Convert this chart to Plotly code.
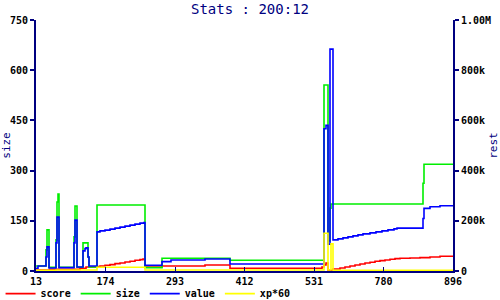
import plotly.graph_objects as go

# x positions are sample indices (0..417); tick labels show the level at each marked index
tick_idx = [0, 69.5, 139, 208.5, 278, 347.5, 417]
tick_labels = ["13", "174", "293", "412", "531", "780", "896"]

score_idx = [0, 14, 44, 50, 61, 64, 69, 74, 79, 84, 89, 94, 99, 104, 107, 109, 126, 169, 194,
             286, 288, 290, 292, 297, 304, 309, 314, 319, 324, 329, 334, 339, 344, 349, 354,
             359, 364, 374, 384, 394, 404, 417]
score_val = [3, 5, 8, 12, 13, 15, 17, 19, 22, 24, 27, 29, 32, 34, 36, 12, 15, 18, 8,
             12, 18, 24, 2, 6, 9, 12, 15, 18, 21, 24, 26, 29, 31, 33, 35,
             37, 38, 39, 40, 42, 44, 45]

size_idx = [0, 10, 11, 13, 20, 21, 22, 23, 38, 39, 41, 47, 52, 53, 61, 109, 126, 194,
            288, 292, 294, 295, 387, 388, 417]
size_val = [15, 63, 123, 11, 93, 206, 230, 11, 102, 194, 11, 84, 42, 12, 197, 10, 38, 32,
            556, 90, 188, 200, 262, 319, 319]

value_idx = [0, 2, 10, 11, 13, 20, 21, 23, 38, 39, 41, 47, 49, 50, 52, 53, 61, 64, 69, 74,
             79, 84, 89, 94, 99, 104, 108, 109, 126, 135, 169, 194, 288, 290, 292, 294, 297,
             302, 307, 312, 317, 322, 327, 334, 340, 346, 352, 358, 361, 387, 388, 394, 404, 417]
value_val = [8, 15, 42, 72, 9, 84, 161, 10, 84, 152, 12, 60, 67, 69, 42, 15, 117, 120, 122, 125,
             128, 131, 134, 137, 140, 143, 145, 17, 28, 33, 36, 21, 425, 435, 80, 663, 93,
             96, 99, 102, 105, 108, 111, 114, 117, 120, 123, 126, 128, 157, 187, 192, 195, 195]

xp_idx = [0, 20, 61, 109, 288, 292, 295, 297, 417]
xp_val = [2, 3, 11, 3, 113, 3, 81, 2, 2]

left_ticks = [0, 150, 300, 450, 600, 750]
right_ticks = [0, 200000, 400000, 600000, 800000, 1000000]
right_labels = ["0", "200k", "400k", "600k", "800k", "1.00M"]

NAVY = "#000080"
MONO = "DejaVu Sans Mono"

fig = go.Figure()
series = [
    ("score", score_idx, score_val, "#ff0000"),
    ("size", size_idx, size_val, "#00ee00"),
    ("value", value_idx, value_val, "#0000ff"),
    ("xp*60", xp_idx, xp_val, "#ffff00"),
]
for name, xs, ys, col in series:
    fig.add_trace(go.Scatter(x=xs, y=ys, name=name, mode="lines",
                             line=dict(color=col, width=1.6, shape="hv")))

# empty trace to activate the right-hand axis
fig.add_trace(go.Scatter(x=[None], y=[None], yaxis="y2", showlegend=False, hoverinfo="skip"))

tickfont = dict(family=MONO, size=10, color="black", weight="bold")

fig.update_layout(
    width=500, height=300,
    margin=dict(l=36, r=47, t=20, b=29, autoexpand=False),
    paper_bgcolor="white", plot_bgcolor="white",
    title=dict(text="Stats : 200:12", x=0.5, xanchor="center", y=0.97, yanchor="middle",
               font=dict(family=MONO, size=14, color=NAVY)),
    xaxis=dict(range=[0, 417], tickvals=tick_idx, ticktext=tick_labels, showgrid=False,
               zeroline=False, showline=True, linecolor=NAVY, linewidth=2, automargin=False,
               ticks="inside", ticklen=4, tickwidth=1, tickcolor=NAVY, tickfont=tickfont),
    yaxis=dict(range=[0, 750], tickvals=left_ticks, showgrid=False, zeroline=False,
               showline=True, linecolor=NAVY, linewidth=2, ticks="outside", ticklen=4,
               tickwidth=2, tickcolor=NAVY, tickfont=tickfont, automargin=False,
               title=dict(text="size", font=dict(family=MONO, size=11, color=NAVY), standoff=4)),
    yaxis2=dict(range=[0, 1000000], overlaying="y", side="right", tickvals=right_ticks,
                ticktext=right_labels, showgrid=False, zeroline=False, showline=True,
                linecolor=NAVY, linewidth=2, ticks="outside", ticklen=4, tickwidth=2,
                tickcolor=NAVY, tickfont=tickfont, automargin=False,
                title=dict(text="rest", font=dict(family=MONO, size=11, color=NAVY), standoff=4)),
    legend=dict(orientation="h", x=-0.085, xanchor="left", y=-0.09, yanchor="middle",
                font=dict(family=MONO, size=10, color="black", weight="bold"),
                itemwidth=30, bgcolor="rgba(0,0,0,0)"),
    showlegend=True,
)

fig.write_html("out.html")
